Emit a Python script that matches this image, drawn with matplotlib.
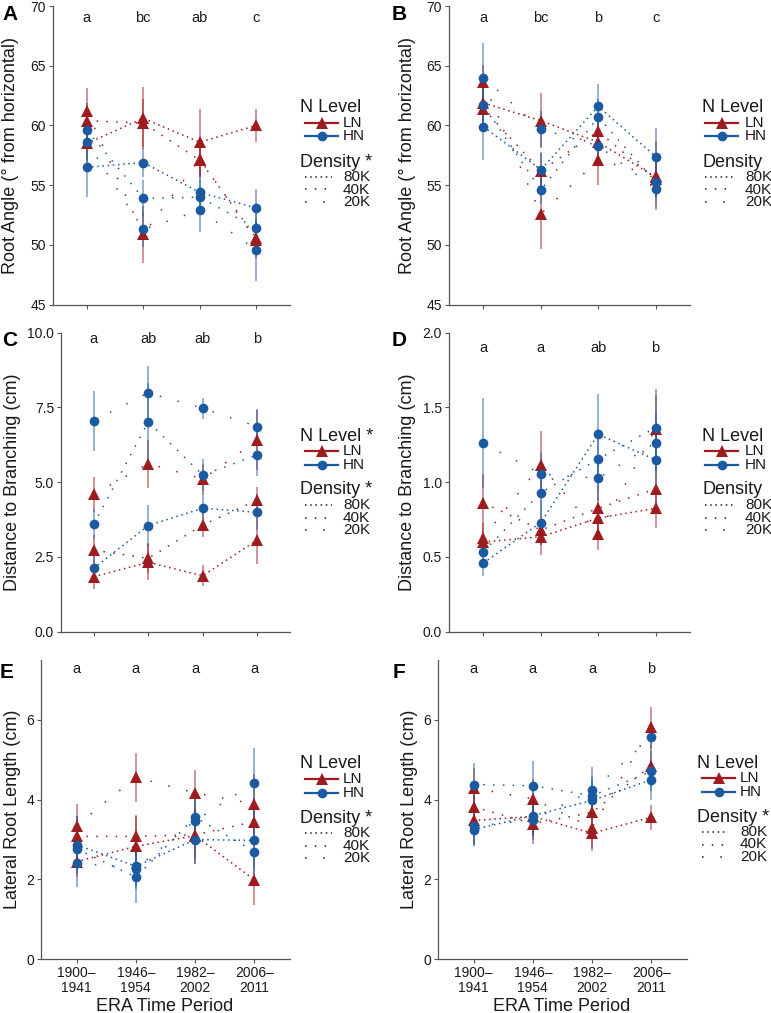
import matplotlib
matplotlib.use('Agg')
import matplotlib.pyplot as plt
from matplotlib.lines import Line2D

plt.rcParams['font.family'] = ['Liberation Sans', 'DejaVu Sans']

eras = ['1900–\n1941', '1946–\n1954', '1982–\n2002', '2006–\n2011']
densities = ['80K', '40K', '20K']
xpos = [1, 2, 3, 4]

# rows are 80K, 40K, 20K
a_ln = [[58.5, 60.6, 58.6, 60.0], [60.4, 60.2, 57.1, 50.6], [61.2, 50.9, 57.2, 50.4]]
a_ln_err = [[1.5, 2.6, 2.8, 1.4], [1.5, 2.0, 1.5, 1.2], [1.9, 2.4, 1.5, 1.5]]
a_hn = [[56.5, 56.9, 54.4, 53.1], [59.6, 53.9, 54.0, 51.4], [58.6, 51.3, 52.9, 49.6]]
a_hn_err = [[2.5, 1.2, 1.6, 1.6], [1.5, 1.5, 1.5, 1.5], [2.0, 1.5, 1.8, 2.6]]

b_ln = [[61.9, 60.4, 58.6, 55.7], [61.4, 56.2, 59.5, 55.5], [63.6, 52.6, 57.1, 55.8]]
b_ln_err = [[1.5, 2.3, 1.5, 1.6], [1.5, 1.5, 1.5, 1.5], [1.5, 2.9, 2.1, 2.9]]
b_hn = [[59.9, 56.3, 61.6, 57.4], [61.7, 54.6, 60.7, 55.3], [64.0, 59.7, 58.3, 54.7]]
b_hn_err = [[2.8, 1.5, 1.9, 2.4], [1.5, 1.2, 1.5, 1.3], [2.9, 1.5, 1.5, 1.5]]

c_ln = [[1.84, 2.32, 1.87, 3.07], [2.73, 2.45, 3.57, 4.40], [4.59, 5.62, 5.11, 6.41]]
c_ln_err = [[0.4, 0.6, 0.35, 0.8], [0.5, 0.5, 0.4, 0.45], [0.6, 0.8, 0.5, 1.0]]
c_hn = [[2.12, 3.55, 4.13, 3.99], [3.59, 7.02, 5.24, 5.91], [7.05, 7.99, 7.47, 6.86]]
c_hn_err = [[0.5, 0.7, 0.5, 0.6], [0.5, 1.3, 0.55, 0.7], [1.0, 0.9, 0.35, 0.6]]

d_ln = [[0.60, 0.635, 0.76, 0.825], [0.863, 0.68, 0.825, 0.955], [0.63, 1.115, 0.654, 1.356]]
d_ln_err = [[0.08, 0.12, 0.1, 0.13], [0.19, 0.1, 0.15, 0.15], [0.1, 0.23, 0.11, 0.27]]
d_hn = [[0.46, 0.73, 1.32, 1.15], [0.535, 0.93, 1.155, 1.365], [1.26, 1.055, 1.026, 1.264]]
d_hn_err = [[0.09, 0.15, 0.27, 0.2], [0.1, 0.15, 0.2, 0.22], [0.3, 0.15, 0.15, 0.2]]

e_ln = [[2.45, 2.83, 3.10, 1.99], [3.08, 3.08, 3.12, 3.45], [3.35, 4.56, 4.17, 3.89]]
e_ln_err = [[0.4, 0.78, 0.7, 0.64], [0.5, 0.5, 0.6, 0.6], [0.55, 0.62, 0.58, 0.76]]
e_hn = [[2.87, 2.33, 3.00, 2.98], [2.77, 2.06, 3.56, 2.70], [2.42, 2.27, 3.47, 4.43]]
e_hn_err = [[0.7, 0.5, 0.6, 0.7], [0.5, 0.66, 0.5, 0.6], [0.6, 0.5, 0.5, 0.87]]

f_ln = [[3.48, 3.58, 3.16, 3.56], [3.82, 3.40, 3.68, 4.85], [4.29, 4.02, 3.30, 5.82]]
f_ln_err = [[0.6, 0.5, 0.45, 0.31], [0.5, 0.52, 0.5, 0.5], [0.5, 0.5, 0.5, 0.5]]
f_hn = [[3.25, 3.60, 3.98, 4.50], [4.38, 4.35, 4.10, 4.71], [3.33, 3.50, 4.23, 5.56]]
f_hn_err = [[0.4, 0.5, 0.5, 0.5], [0.53, 0.62, 0.5, 0.5], [0.5, 0.5, 0.6, 0.3]]

red = '#9e1b1f'
blue = '#1b5aa0'
axcol = '#555555'
txt = '#1a1a1a'
dots = {'80K': (0, (1, 2.4)), '40K': (0, (1, 5.4)), '20K': (0, (1, 11))}

W, H = 771, 1013
fig = plt.figure(figsize=(W / 100, H / 100), dpi=100)


def fx(x):
    return x / W


def fy(y):
    return 1 - y / H


def panel(box, ln, ln_err, hn, hn_err, ylim, yticks, yticklabels, ylabel, ylab_x,
          letters, letter_y, tag, tag_xy, n_title, d_title, leg, xlabels=False):
    l, t, r, b = box
    ax = fig.add_axes([fx(l), fy(b), (r - l) / W, (b - t) / H])
    for means, errs, col in [(ln, ln_err, red), (hn, hn_err, blue)]:
        for m, e in zip(means, errs):
            ax.errorbar(xpos, m, yerr=e, fmt='none', ecolor=col, elinewidth=1.2,
                        alpha=0.55, capsize=0, zorder=1)
    for means, col in [(ln, red), (hn, blue)]:
        for m, d in zip(means, densities):
            ax.plot(xpos, m, color=col, lw=1.1, linestyle=dots[d], zorder=2)
    for means, col, mk, ms in [(ln, red, '^', 8.5), (hn, blue, 'o', 7)]:
        for m in means:
            ax.plot(xpos, m, linestyle='none', marker=mk, ms=ms, color=col,
                    markeredgewidth=0, zorder=3)
    ax.set_xlim(0.4, 4.6)
    ax.set_ylim(*ylim)
    ax.set_yticks(yticks)
    ax.set_yticklabels(yticklabels)
    ax.set_xticks(xpos)
    if xlabels:
        ax.set_xticklabels(eras, fontsize=10, color=txt, linespacing=1.05)
    else:
        ax.set_xticklabels([])
    for s in ['top', 'right']:
        ax.spines[s].set_visible(False)
    for s in ['left', 'bottom']:
        ax.spines[s].set_color(axcol)
        ax.spines[s].set_linewidth(0.9)
    ax.tick_params(axis='both', length=3, width=0.8, color=axcol, pad=2)
    ax.tick_params(axis='y', labelsize=10, labelcolor=txt)
    fy_frac = (b - letter_y) / (b - t)
    for x, s in zip(xpos, letters):
        ax.text(x, fy_frac, s, transform=ax.get_xaxis_transform(), ha='center',
                va='center', fontsize=10.5, color=txt)
    fig.text(fx(ylab_x), fy((t + b) / 2), ylabel, rotation=90, ha='center', va='center',
             fontsize=13, color=txt)
    fig.text(fx(tag_xy[0]), fy(tag_xy[1]), tag, ha='left', va='center', fontsize=15,
             fontweight='bold', color='black')

    # legend
    tx, lx0, lx1, labx, dx1, y0 = leg
    offs = [0, 15, 28.5, 54, 69, 81.5, 94]
    fig.text(fx(tx), fy(y0 + offs[0]), n_title, ha='left', va='center', fontsize=13, color=txt)
    for k, (lab, col, mk, ms) in enumerate([('LN', red, '^', 8.5), ('HN', blue, 'o', 7)]):
        yy = y0 + offs[1 + k]
        fig.add_artist(Line2D([fx(lx0), fx(lx1)], [fy(yy), fy(yy)], color=col, lw=1.6,
                              transform=fig.transFigure))
        fig.add_artist(Line2D([fx((lx0 + lx1) / 2)], [fy(yy)], color=col, marker=mk, ms=ms,
                              markeredgewidth=0, transform=fig.transFigure))
        fig.text(fx(labx), fy(yy), lab, ha='left', va='center', fontsize=11, color=txt)
    fig.text(fx(tx), fy(y0 + offs[3]), d_title, ha='left', va='center', fontsize=13, color=txt)
    for k, d in enumerate(densities):
        yy = y0 + offs[4 + k]
        fig.add_artist(Line2D([fx(lx0), fx(dx1)], [fy(yy), fy(yy)], color=txt, lw=1.1,
                              linestyle=dots[d], transform=fig.transFigure))
        fig.text(fx(labx), fy(yy), d, ha='left', va='center', fontsize=11, color=txt)
    return ax


ang_ticks = [45, 50, 55, 60, 65, 70]
ang_labels = ['45', '50', '55', '60', '65', '70']

panel((53, 6, 290, 304.7), a_ln, a_ln_err, a_hn, a_hn_err, (45, 70), ang_ticks, ang_labels,
      'Root Angle (° from horizontal)', 11, ['a', 'bc', 'ab', 'c'], 18, 'A', (2, 14),
      'N Level', 'Density *', (300, 305, 338, 343, 332, 108))
panel((449, 6, 690, 304.7), b_ln, b_ln_err, b_hn, b_hn_err, (45, 70), ang_ticks, ang_labels,
      'Root Angle (° from horizontal)', 407, ['a', 'bc', 'b', 'c'], 18, 'B', (392, 14),
      'N Level', 'Density', (702, 705, 738, 745, 733, 108))
panel((61, 332.7, 290, 631.7), c_ln, c_ln_err, c_hn, c_hn_err, (0, 10), [0, 2.5, 5, 7.5, 10],
      ['0.0', '2.5', '5.0', '7.5', '10.0'], 'Distance to Branching (cm)', 12.5,
      ['a', 'ab', 'ab', 'b'], 339, 'C', (2, 341), 'N Level *', 'Density *',
      (300, 305, 338, 343, 332, 436))
panel((449, 332.7, 690, 631.7), d_ln, d_ln_err, d_hn, d_hn_err, (0, 2), [0, 0.5, 1, 1.5, 2],
      ['0.0', '0.5', '1.0', '1.5', '2.0'], 'Distance to Branching (cm)', 407,
      ['a', 'a', 'ab', 'b'], 348, 'D', (392, 341), 'N Level', 'Density',
      (702, 705, 738, 745, 733, 436))
panel((41, 660, 290, 959.3), e_ln, e_ln_err, e_hn, e_hn_err, (0, 7.5), [0, 2, 4, 6],
      ['0', '2', '4', '6'], 'Lateral Root Length (cm)', 13, ['a', 'a', 'a', 'a'], 669, 'E',
      (0, 672), 'N Level', 'Density *', (300, 305, 338, 343, 332, 764), xlabels=True)
panel((438, 660, 687, 959.3), f_ln, f_ln_err, f_hn, f_hn_err, (0, 7.5), [0, 2, 4, 6],
      ['0', '2', '4', '6'], 'Lateral Root Length (cm)', 409, ['a', 'a', 'a', 'b'], 669, 'F',
      (393, 672), 'N Level', 'Density *', (697, 702, 735, 740, 728, 763), xlabels=True)

fig.text(fx(165), fy(1006), 'ERA Time Period', ha='center', va='center', fontsize=13, color=txt)
fig.text(fx(562), fy(1006), 'ERA Time Period', ha='center', va='center', fontsize=13, color=txt)

fig.savefig('out.png', dpi=100, facecolor='white')
